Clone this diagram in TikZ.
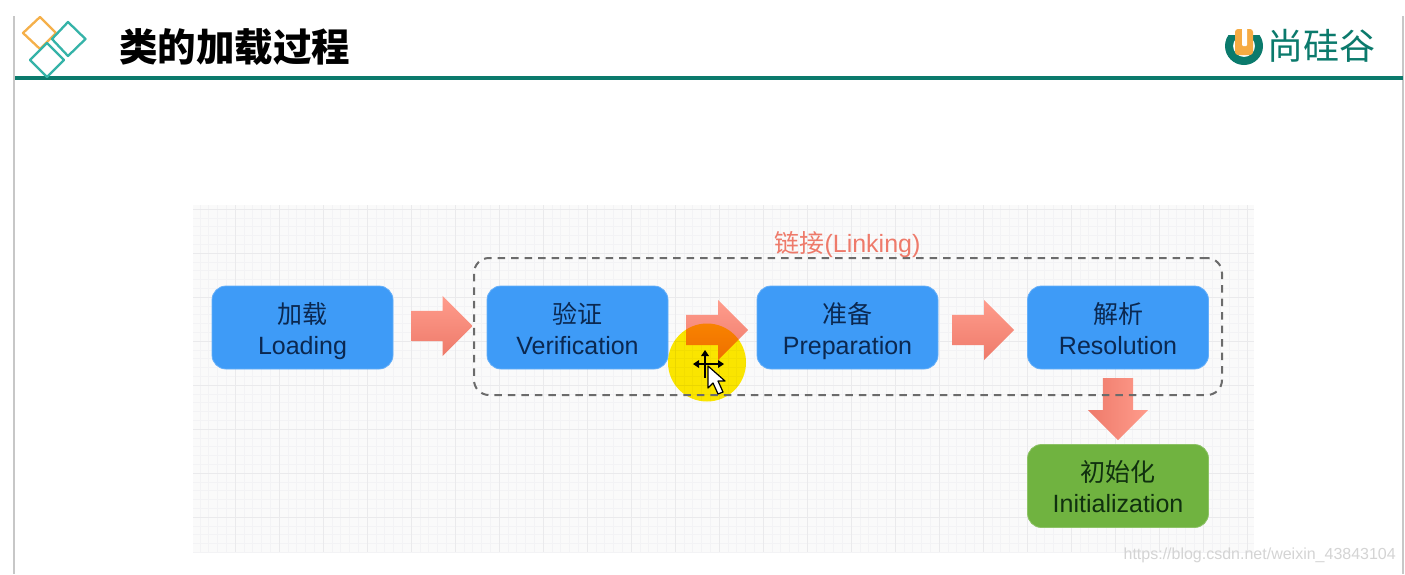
\documentclass[tikz,border=0pt]{standalone}
\usepackage{fontspec}
\setmainfont{Liberation Sans}
\newfontfamily\cjk{Noto Sans CJK SC}
\usetikzlibrary{shapes.arrows,calc}
\definecolor{boxblue}{HTML}{3E9BF7}
\definecolor{boxgreen}{HTML}{70B340}
\definecolor{navytxt}{HTML}{0B2850}
\definecolor{greentxt}{HTML}{10300F}
\definecolor{headteal}{HTML}{0B7A6C}
\definecolor{diamteal}{HTML}{35B3A8}
\definecolor{diamorange}{HTML}{F5B04A}
\definecolor{arrowlight}{HTML}{FF9C8C}
\definecolor{arrowdark}{HTML}{EE7A6A}
\definecolor{gridfine}{HTML}{F3F3F5}
\definecolor{gridmajor}{HTML}{EAEAEC}
\definecolor{markyellow}{HTML}{FFEA00}
\newcommand{\stagetext}[2]{\rule[-4pt]{0pt}{30pt}\smash{\cjk #1}\\\rule[-4pt]{0pt}{30pt}\smash{#2}}
\tikzset{
  stagebox/.style={rectangle,rounded corners=14pt,minimum width=181pt,minimum height=83pt,inner sep=0pt,
    align=center,font=\fontsize{25}{31}\selectfont},
  bluebox/.style={stagebox,fill=boxblue,draw=boxblue!80!white,line width=.8pt,text=navytxt},
  greenbox/.style={stagebox,fill=boxgreen,draw=boxgreen!80!white,line width=.8pt,text=greentxt},
  flowarrow/.style={shape=single arrow,single arrow head extend=15pt,minimum width=60pt,inner sep=0pt,
    single arrow tip angle=90,draw=none},
  rightarrow/.style={flowarrow,top color=arrowlight,bottom color=arrowdark},
  downarrow/.style={flowarrow,shape border rotate=270,left color=arrowdark,right color=arrowlight},
  diamond line/.style={line width=2.3pt,line join=round}
}
\begin{document}
\begin{tikzpicture}[x=1pt,y=-1pt]
\useasboundingbox (0,0) rectangle (1405,574);
\fill[white] (0,0) rectangle (1405,574);
% slide frame
\draw[black!22,line width=1.6pt] (14,16) -- (14,574);
\draw[black!22,line width=1.6pt] (1403,16) -- (1403,574);
\draw[headteal,line width=3.6pt] (15,78) -- (1403,78);
% logo diamonds
\draw[diamond line,diamorange] (40,17) -- (56,33) -- (40,49) -- (23,33) -- cycle;
\draw[diamond line,diamteal] (68,22) -- (85.5,39) -- (68,56) -- (52,39) -- cycle;
\draw[diamond line,diamteal] (47,43) -- (64,60) -- (47,77) -- (30,60) -- cycle;
\node[font=\cjk\bfseries\fontsize{38.5}{38}\selectfont,anchor=west,inner sep=0pt] (title) at (119,47) {类的加载过程};
% brand logo
\begin{scope}
\clip (1220,35) rectangle (1270,70);
\fill[headteal,even odd rule] (1244,46) circle[radius=19] (1244,46) circle[radius=11];
\end{scope}
\fill[diamorange!90!orange,rounded corners=3pt] (1235,29) rectangle (1253,55);
\fill[white,rounded corners=1pt] (1242,27) rectangle (1247,46);
\node[font=\cjk\fontsize{36}{36}\selectfont,text=headteal,anchor=west,inner sep=0pt] (brand) at (1267,46) {尚硅谷};
% grid background
\fill[white!98!black] (193,205) rectangle (1254,552);
\begin{scope}
\clip (193,205) rectangle (1254,552);
\foreach \i in {0,...,121} \draw[gridfine,line width=.5pt] ({191+8.8*\i},205) -- ({191+8.8*\i},552);
\foreach \i in {0,...,40} \draw[gridfine,line width=.5pt] (193,{209+8.8*\i}) -- (1254,{209+8.8*\i});
\foreach \i in {0,...,24} \draw[gridmajor,line width=.6pt] ({191+44*\i},205) -- ({191+44*\i},552);
\foreach \i in {0,...,8} \draw[gridmajor,line width=.6pt] (193,{209+44*\i}) -- (1254,{209+44*\i});
\end{scope}
% stages
\node[bluebox] (loading) at (302.5,327.5) {\stagetext{加载}{Loading}};
\node[bluebox] (verify) at (577.5,327.5) {\stagetext{验证}{Verification}};
\node[bluebox] (prepare) at (847.5,327.5) {\stagetext{准备}{Preparation}};
\node[bluebox] (resolve) at (1118,327.5) {\stagetext{解析}{Resolution}};
\node[greenbox] (init) at (1118,486) {\stagetext{初始化}{Initialization}};
% block arrows
\node[rightarrow,minimum height=61pt,anchor=tail] (a1) at (411.5,326) {\rule{0pt}{30pt}};
\node[rightarrow,minimum height=62pt,anchor=tail] (a2) at (686,330) {\rule{0pt}{30pt}};
\node[rightarrow,minimum height=62pt,anchor=tail] (a3) at (952,330) {\rule{0pt}{30pt}};
\node[downarrow,minimum height=62pt,anchor=tail] (a4) at (1118,378) {\rule{30pt}{0pt}};
% highlight of the pointer
\begin{scope}[blend mode=multiply]
\fill[markyellow] (707,362.5) circle[radius=39];
\end{scope}
% linking group
\node[rectangle,rounded corners=15pt,draw=black!58,line width=2pt,dash pattern=on 7.5pt off 6pt,minimum width=748pt,minimum height=137pt,inner sep=0pt] (linkbox) at (848,326.5) {};
\node[font=\fontsize{25}{25}\selectfont,text=arrowdark,inner sep=0pt] (linklabel) at (847.5,244.5) {{\cjk 链接}(Linking)};
% pointer
\draw[black,line width=1.6pt] (695,364) -- (722,364) (705,351) -- (705,378);
\fill[black] (693,364) -- (699,360) -- (699,368) -- cycle;
\fill[black] (724,364) -- (718,360) -- (718,368) -- cycle;
\fill[black] (705,350) -- (701,356) -- (709,356) -- cycle;
\draw[black,fill=white,line width=1.2pt,line join=round] (708,366) -- (708,388) -- (713,383) -- (718,394) -- (723,392) -- (718,381) -- (725,381) -- cycle;
% watermark
\node[font=\fontsize{16}{17}\selectfont,text=black!17,anchor=east,inner sep=0pt] (mark) at (1396,555) {https://blog.csdn.net/weixin\_43843104};
\end{tikzpicture}
\end{document}
